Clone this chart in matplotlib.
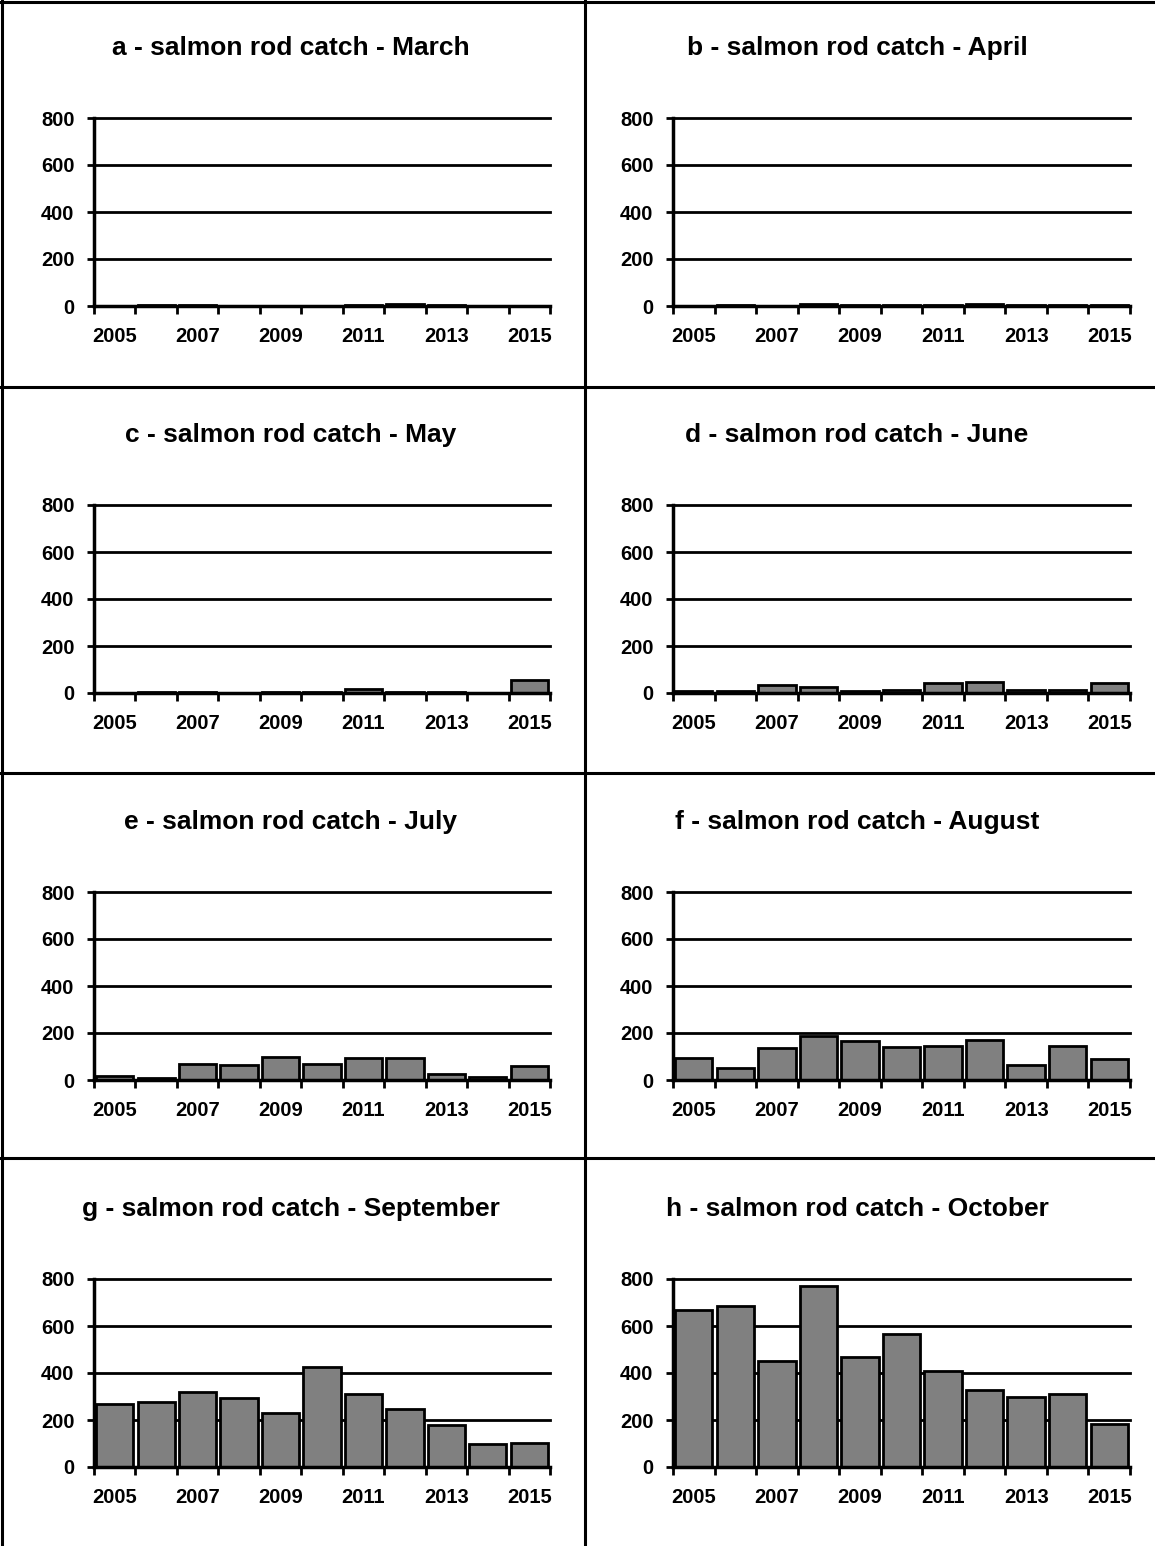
import matplotlib
matplotlib.use("Agg")
import matplotlib.pyplot as plt
from matplotlib.lines import Line2D

plt.rcParams['font.family'] = ['Liberation Sans', 'DejaVu Sans']
plt.rcParams['font.weight'] = 'bold'

years = [2005, 2006, 2007, 2008, 2009, 2010, 2011, 2012, 2013, 2014, 2015]
year_labels = ['2005', '2007', '2009', '2011', '2013', '2015']
y_ticks = [0, 200, 400, 600, 800]

march = [1, 3, 4, 2, 2, 2, 6, 8, 4, 2, 1]
april = [1, 4, 2, 8, 3, 3, 3, 10, 4, 5, 3]
may = [2, 4, 3, 1, 4, 4, 17, 5, 6, 2, 54]
june = [9, 7, 34, 26, 7, 13, 41, 47, 11, 13, 44]
july = [17, 7, 70, 63, 99, 69, 93, 92, 25, 14, 61]
august = [92, 49, 138, 186, 166, 141, 144, 172, 65, 144, 90]
september = [266, 278, 320, 295, 228, 425, 310, 245, 178, 96, 102]
october = [666, 686, 453, 772, 469, 568, 409, 327, 297, 310, 184]

panels = [
    ("a - salmon rod catch - March", march),
    ("b - salmon rod catch - April", april),
    ("c - salmon rod catch - May", may),
    ("d - salmon rod catch - June", june),
    ("e - salmon rod catch - July", july),
    ("f - salmon rod catch - August", august),
    ("g - salmon rod catch - September", september),
    ("h - salmon rod catch - October", october),
]

W, H = 1155, 1546
fig = plt.figure(figsize=(W / 100, H / 100), dpi=100)

def px(x0, y0, x1, y1):
    # pixel box (top-left origin) -> figure fraction rect
    return [x0 / W, 1 - y1 / H, (x1 - x0) / W, (y1 - y0) / H]

row_step = 387
col_axes = [(94, 550), (673, 1130)]
title_x = [291, 857]

for i, (title, vals) in enumerate(panels):
    r, c = divmod(i, 2)
    top = 118 + row_step * r
    bot = 306 + row_step * r
    x0, x1 = col_axes[c]
    ax = fig.add_axes(px(x0, top, x1, bot))
    ax.bar(years, vals, width=0.9, color='#808080', edgecolor='black', linewidth=2, zorder=3)
    ax.set_xlim(2004.5, 2015.5)
    ax.set_ylim(0, 800)
    ax.set_yticks(y_ticks)
    ax.set_yticklabels([str(v) for v in y_ticks], fontsize=14.5, fontweight='bold')
    for v in y_ticks[1:]:
        ax.axhline(v, color='black', linewidth=2, zorder=1, clip_on=False)
    ax.set_xticks([y - 0.5 for y in years] + [2015.5])
    ax.set_xticklabels([])
    ax.set_xticks([int(l) for l in year_labels], minor=True)
    ax.set_xticklabels(year_labels, minor=True, fontsize=14.5, fontweight='bold')
    ax.tick_params(axis='x', which='major', length=6, width=2, direction='out', color='black')
    ax.tick_params(axis='x', which='minor', length=0, pad=15)
    ax.tick_params(axis='y', length=5, width=2, direction='out', pad=9)
    for s in ['top', 'right']:
        ax.spines[s].set_visible(False)
    for s in ['left', 'bottom']:
        ax.spines[s].set_linewidth(2.5)
        ax.spines[s].set_zorder(4)
    ax.set_facecolor('none')
    fig.text(title_x[c] / W, 1 - (48 + row_step * r) / H, title,
             ha='center', va='center', fontsize=19, fontweight='bold')

# panel borders
def hline(y, x0=0, x1=W):
    fig.add_artist(Line2D([x0 / W, x1 / W], [1 - y / H, 1 - y / H], color='black', linewidth=2.2))

def vline(x, y0=0, y1=H):
    fig.add_artist(Line2D([x / W, x / W], [1 - y0 / H, 1 - y1 / H], color='black', linewidth=2.2))

hline(1.5)
for y in [387, 773, 1158]:
    hline(y)
vline(1.5)
vline(585)

fig.savefig("out.png", dpi=100, facecolor='white')
